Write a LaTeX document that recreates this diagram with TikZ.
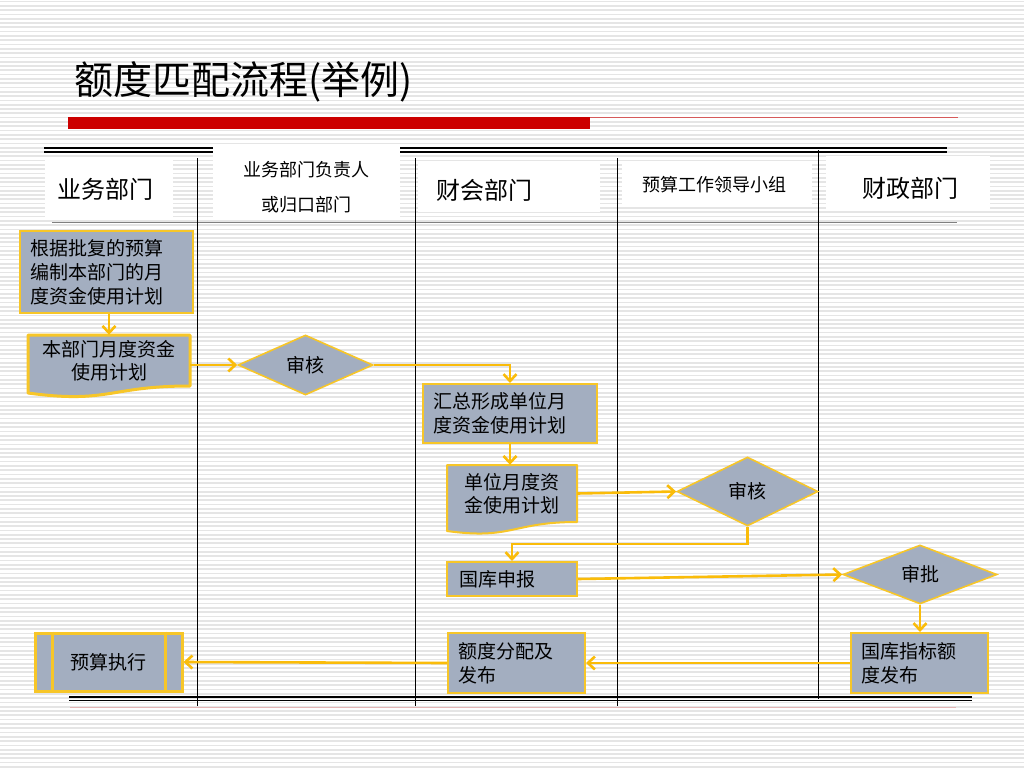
\documentclass[tikz,border=0pt]{standalone}
\usepackage{fontspec}
\setmainfont{Noto Sans CJK SC}
\usetikzlibrary{arrows.meta,calc,shapes.geometric}
\definecolor{boxfill}{RGB}{163,174,192}
\definecolor{boxline}{RGB}{247,198,40}
\definecolor{arr}{RGB}{250,188,10}
\definecolor{redbar}{RGB}{204,0,0}
\definecolor{thinred}{RGB}{214,90,90}
\definecolor{stripe}{RGB}{229,229,229}
\definecolor{pinkline}{RGB}{228,180,180}
\pgfdeclarelayer{back}
\pgfdeclarelayer{bg}
\pgfsetlayers{back,bg,main}
\tikzset{
  procbox/.style={draw=boxline, fill=boxfill, line width=2pt, inner ysep=0pt, inner xsep=10pt,
    align=left, font=\fontsize{19}{24}\selectfont, anchor=center},
  docbox/.style={draw=none, fill=none, inner sep=0pt, align=center,
    font=\fontsize{19}{23}\selectfont},
  docshape/.style={draw=boxline, fill=boxfill, line width=2pt, line join=round},
  decide/.style={diamond, draw=boxline, fill=boxfill, line width=1.6pt, inner sep=0pt,
    font=\fontsize{19}{23}\selectfont},
  flow/.style={draw=arr, line width=2.6pt, -{Straight Barb[length=7pt,width=13pt]}},
  lane/.style={draw=black, line width=1pt},
  headcell/.style={fill=white, draw=none},
  headbig/.style={font=\fontsize{24}{28}\selectfont, inner sep=0pt},
  headsmall/.style={font=\fontsize{18}{35}\selectfont, inner sep=0pt, align=center},
}
\begin{document}
\begin{tikzpicture}[x=1pt,y=-1pt]
\useasboundingbox (0,0) rectangle (1024,768);
% background stripes
\begin{pgfonlayer}{back}
  \fill[white] (0,0) rectangle (1024,768);
  \foreach \i in {0,...,178} {
    \draw[stripe, line width=1.7pt] (0,{1.5+\i*4.3}) -- (1024,{1.5+\i*4.3});
  }
\end{pgfonlayer}

% title
\node[anchor=west, inner sep=0pt, font=\fontsize{39}{44}\selectfont] (title) at (74,82) {额度匹配流程(举例)};
\fill[redbar] (68,117) rectangle (590,129);
\draw[thinred, line width=1pt] (590,117.5) -- (958,117.5);

% table frame
\draw[line width=1.2pt] (44,148) -- (947,148);
\draw[line width=1.2pt] (44,152) -- (947,152);
\draw[gray, line width=0.8pt] (52,222) -- (957,222);
\draw[lane] (197,158) -- (197,706);
\draw[lane] (415,158) -- (415,706);
\draw[lane] (617,158) -- (617,706);
\draw[lane] (818,150) -- (818,699);
\draw[line width=1.2pt] (69,697) -- (972,697);
\draw[line width=1.2pt] (69,700.5) -- (972,700.5);
\draw[pinkline, line width=1pt] (70,707) -- (956,707);

% header cells
\fill[headcell] (45,157) rectangle (173,220);
\fill[headcell] (213,145) rectangle (400,220);
\fill[headcell] (418,163) rectangle (600,212);
\fill[headcell] (622,163) rectangle (812,207);
\fill[headcell] (826,156) rectangle (990,210);
\node[headbig] (h1) at (105,189) {业务部门};
\node[headsmall] (h2) at (306,187.5) {业务部门负责人\\或归口部门};
\node[headbig] (h3) at (484,190) {财会部门};
\node[headsmall] (h4) at (714,185) {预算工作领导小组};
\node[headbig] (h5) at (910,188) {财政部门};

% nodes
\node[procbox, text width=153pt, minimum height=82pt] (box1) at (106.5,272)
  {根据批复的预算\\编制本部门的月\\度资金使用计划};

\begin{pgfonlayer}{bg}
  \path[docshape, line width=3pt] (28,335) -- (190,335) -- (190,386)
    .. controls (109,386) and (109,404) .. (28,393) -- cycle;
  \path[docshape] (447,465) -- (577,465) -- (577,522)
    .. controls (512,522) and (512,540) .. (447,531) -- cycle;
\end{pgfonlayer}
\node[docbox, minimum width=162pt, minimum height=51pt] (doc1) at (109,360.5)
  {本部门月度资金\\使用计划};

\node[decide, minimum width=135pt, minimum height=60pt] (dia1) at (305.5,365) {审核};

\node[procbox, text width=154pt, minimum height=59pt] (box4) at (510,413.5)
  {汇总形成单位月\\度资金使用计划};

\node[docbox, minimum width=130pt, minimum height=57pt] (doc2) at (512,493.5)
  {单位月度资\\金使用计划};

\node[decide, minimum width=141pt, minimum height=69pt] (dia2) at (747.5,491.5) {审核};

\node[procbox, text width=106pt, inner xsep=12pt, minimum height=34pt] (box7) at (512,579)
  {国库申报};

\node[decide, minimum width=154pt, minimum height=59pt] (dia3) at (920,574.5) {审批};

\node[procbox, text width=117pt, minimum height=60pt] (box9) at (919.5,663)
  {国库指标额\\度发布};

\node[procbox, text width=117pt, minimum height=60pt] (box10) at (516.5,663)
  {额度分配及\\发布};

\node[procbox, line width=3pt, align=center, text width=127pt, minimum height=58pt] (box11) at (108.5,662)
  {预算执行};
\draw[boxline, line width=3pt] ($(box11.north west)+(19,0)$) -- ($(box11.south west)+(19,0)$);
\draw[boxline, line width=3pt] ($(box11.north east)+(-18,0)$) -- ($(box11.south east)+(-18,0)$);

% connectors
\draw[flow] (box1.south -| doc1.north) -- (doc1.north);
\draw[flow] (doc1.east |- dia1.west) -- (dia1.west);
\draw[flow] (dia1.east) -| (box4.north);
\draw[flow] (box4.south) -- (box4.south |- doc2.north);
\draw[flow] (doc2.east) -- (dia2.west);
\draw[flow] (dia2.south) -- ++(0,17) -| (box7.north);
\draw[flow] (box7.east) -- (dia3.west);
\draw[flow] (dia3.south) -- (dia3.south |- box9.north);
\draw[flow] (box9.west) -- (box10.east);
\draw[flow] (box10.west) -- (box11.east);
\end{tikzpicture}
\end{document}
